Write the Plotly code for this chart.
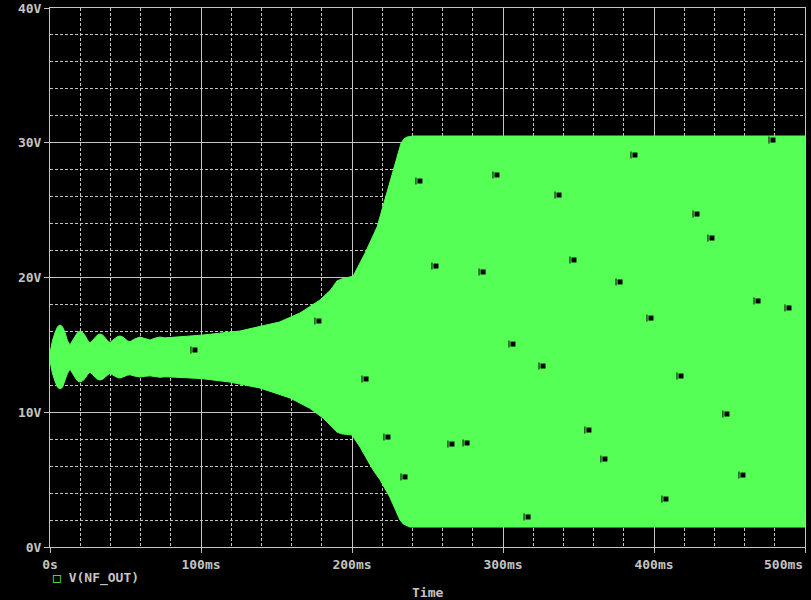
import plotly.graph_objects as go

# ---------------- data ----------------
# upper envelope of V(NF_OUT) : time in ms, voltage in V
upper_t = [0, 1.6, 3.3, 5, 6.6, 8.3, 10, 11.6, 13.2, 14.8, 16.5, 18.2, 19.9, 21.6, 23.2,
           24.9, 26.5, 28.1, 29.8, 31.5, 33.1, 34.8, 36.4, 38, 39.7, 41.3, 43, 44.7, 46.4,
           48, 49.7, 51.3, 53, 56.3, 59.6, 63, 66.2, 69.5, 72.8, 76, 79.5, 86, 100, 125.8,
           152, 165.6, 178.8, 186, 190, 194, 198.7, 200.7, 204, 208.6, 216.6, 223.2,
           229.8, 232.5, 234.5, 236.4, 240, 500]
upper_v = [14.4, 15.3, 15.9, 16.35, 16.48, 16.35, 15.9, 15.3, 15.0, 15.3, 15.6, 15.92,
           16.03, 15.92, 15.7, 15.35, 15.14, 15.35, 15.55, 15.74, 15.81, 15.74, 15.55, 15.32,
           15.18, 15.32, 15.48, 15.62, 15.66, 15.6, 15.45, 15.3, 15.24, 15.45, 15.58, 15.45,
           15.36, 15.5, 15.58, 15.52, 15.56, 15.6, 15.72, 16.03, 16.7, 17.37, 18.33, 19.1,
           19.74, 19.93, 20.04, 20.1, 20.8, 21.8, 23.75, 26.27, 28.94, 29.98, 30.3, 30.42,
           30.5, 30.5]

# lower envelope of V(NF_OUT)
lower_t = [0, 1.6, 3.3, 5, 6.6, 8.3, 10, 11.6, 13.2, 14.8, 16.5, 18.2, 19.9, 21.6, 23.2,
           24.9, 26.5, 28.1, 29.8, 31.5, 33.1, 34.8, 36.4, 38, 39.7, 41.3, 43, 44.7, 46.4,
           48, 49.7, 51.3, 53, 56.3, 59.6, 63, 66.2, 69.5, 72.8, 76, 79.5, 86, 100, 119,
           139, 159, 172, 180.8, 190, 193, 200, 205.3, 214, 218.5, 225, 231.8, 234, 238.4,
           500]
lower_v = [13.8, 12.9, 12.3, 11.85, 11.73, 11.85, 12.3, 12.9, 13.2, 12.9, 12.6, 12.33,
           12.24, 12.33, 12.5, 12.8, 12.99, 12.8, 12.6, 12.45, 12.39, 12.45, 12.6, 12.78,
           12.91, 12.78, 12.66, 12.57, 12.54, 12.58, 12.67, 12.75, 12.78, 12.68, 12.62,
           12.67, 12.7, 12.65, 12.6, 12.63, 12.62, 12.62, 12.5, 12.24, 11.8, 11.06, 10.3,
           9.57, 8.53, 8.4, 8.31, 7.42, 5.71, 5.0, 3.71, 2.0, 1.7, 1.48, 1.48]

# trace symbol markers
marker_t = [96.0, 178.1, 209.3, 223.8, 235.1, 245.0, 255.6, 266.2, 276.2, 286.8, 296.0,
            306.6, 316.6, 326.5, 337.1, 347.0, 356.9, 367.5, 377.5, 387.4, 398.0, 407.9,
            417.9, 428.5, 438.4, 448.3, 458.9, 468.9, 478.8, 489.4]
marker_v = [14.62, 16.77, 12.47, 8.16, 5.20, 27.16, 20.85, 7.64, 7.72, 20.41, 27.61,
            15.06, 2.23, 13.43, 26.12, 21.30, 8.68, 6.53, 19.67, 29.09, 16.99, 3.56,
            12.69, 24.71, 22.93, 9.87, 5.34, 18.26, 30.20, 17.74]

x_tick_vals = [0, 100, 200, 300, 400, 500]
x_tick_text = ["0s", "100ms", "200ms", "300ms", "400ms", "500ms"]
y_tick_vals = [0, 10, 20, 30, 40]
y_tick_text = ["0V", "10V", "20V", "30V", "40V"]
trace_name = "V(NF_OUT)"
x_title = "Time"

# ---------------- style ----------------
W, H = 811, 600
ML, MR, MT, MB = 50, 6, 8, 53
GREEN = "#55ff55"
GRAY = "#c4c4c4"
FONT = dict(family="DejaVu Sans Mono", size=13, color=GRAY, weight="bold")

plot_w = W - ML - MR
plot_h = H - MT - MB
ms_per_px = 500.0 / plot_w

# last x label is right-aligned to the axis end in the reference -> drawn as annotation
x_text = list(x_tick_text[:-1]) + [""]

fig = go.Figure()

# filled band (dense oscillation) between envelopes
poly_x = list(upper_t) + list(reversed(lower_t))
poly_y = list(upper_v) + list(reversed(lower_v))
fig.add_trace(go.Scatter(
    x=poly_x, y=poly_y, mode="lines", fill="toself", fillcolor=GREEN,
    line=dict(color=GREEN, width=1), hoverinfo="skip", showlegend=False,
))

# symbol markers: small tick + black square
fig.add_trace(go.Scatter(
    x=[t - 4 * ms_per_px for t in marker_t], y=marker_v, mode="markers",
    marker=dict(symbol="line-ns", size=5, color="black",
                line=dict(color="black", width=1)),
    hoverinfo="skip", showlegend=False,
))
fig.add_trace(go.Scatter(
    x=marker_t, y=marker_v, mode="markers",
    marker=dict(symbol="square", size=5, color="black", line=dict(width=0)),
    name=trace_name, showlegend=False,
))

axis_common = dict(
    showline=True, linecolor=GRAY, linewidth=1, mirror=True,
    showgrid=True, gridcolor=GRAY, gridwidth=1, automargin=False,
    zeroline=False, ticks="outside", ticklen=5, tickwidth=1, tickcolor=GRAY,
    tickfont=FONT, fixedrange=True,
)

fig.update_xaxes(
    range=[0, 500], tickmode="array", tickvals=x_tick_vals, ticktext=x_text,
    minor=dict(dtick=20, tick0=0, showgrid=True, gridcolor=GRAY, gridwidth=1,
               griddash="3px,2px", ticks=""),
    **axis_common,
)
fig.update_yaxes(
    range=[0, 40], tickmode="array", tickvals=y_tick_vals, ticktext=y_tick_text,
    minor=dict(dtick=2, tick0=0, showgrid=True, gridcolor=GRAY, gridwidth=1,
               griddash="3px,2px", ticks=""),
    **axis_common,
)

fig.add_annotation(
    text=x_tick_text[-1], xref="x", yref="paper", x=x_tick_vals[-1],
    y=-(564 - (H - MB)) / plot_h, xanchor="right", yanchor="middle",
    showarrow=False, font=FONT,
)
fig.add_annotation(
    text=x_title, xref="paper", yref="paper", x=0.5, y=-(592 - (H - MB)) / plot_h,
    xanchor="center", yanchor="middle", showarrow=False, font=FONT,
)
fig.add_annotation(
    text=f'<span style="color:{GREEN}">□</span> {trace_name}',
    xref="paper", yref="paper", x=(51 - ML) / plot_w, y=-(578 - (H - MB)) / plot_h,
    xanchor="left", yanchor="middle", showarrow=False, font=FONT,
)

fig.update_layout(
    width=W, height=H, autosize=False,
    margin=dict(l=ML, r=MR, t=MT, b=MB, pad=0, autoexpand=False),
    paper_bgcolor="black", plot_bgcolor="black",
    font=FONT, showlegend=False, hovermode=False,
)

fig.write_html(
    "out.html",
    config={"displayModeBar": False},
    post_script="document.body.style.margin='0';document.body.style.background='black';"
                "document.body.style.overflow='hidden';",
)
